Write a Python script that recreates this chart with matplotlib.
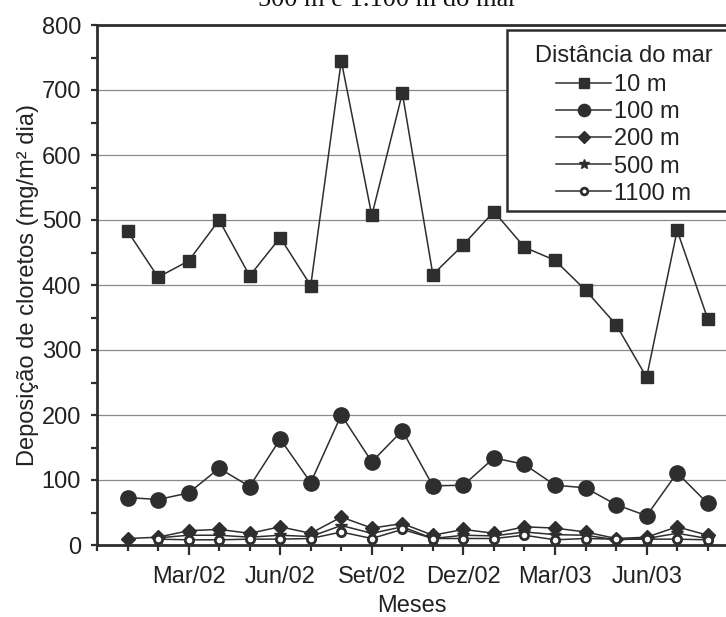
import matplotlib
matplotlib.use("Agg")
import matplotlib.pyplot as plt
import numpy as np
from matplotlib.patches import Rectangle
from matplotlib.ticker import FixedLocator, MultipleLocator

# monthly chloride deposition, Jan/02 .. Ago/03
months = ["Jan/02", "Fev/02", "Mar/02", "Abr/02", "Mai/02", "Jun/02", "Jul/02",
          "Ago/02", "Set/02", "Out/02", "Nov/02", "Dez/02", "Jan/03", "Fev/03",
          "Mar/03", "Abr/03", "Mai/03", "Jun/03", "Jul/03", "Ago/03"]
labelled_months = ["Mar/02", "Jun/02", "Set/02", "Dez/02", "Mar/03", "Jun/03"]

dep_10m = [483, 412, 437, 500, 414, 473, 399, 745, 507, 695,
           416, 462, 513, 458, 438, 392, 339, 258, 484, 348]
dep_100m = [73, 70, 80, 118, 90, 163, 96, 200, 128, 176,
            91, 92, 134, 124, 92, 88, 62, 45, 111, 64]
dep_200m = [10, 12, 22, 24, 18, 28, 18, 43, 26, 33,
            15, 24, 18, 28, 26, 20, 10, 12, 28, 15]
dep_500m = [np.nan, 11, 15, 15, 12, 15, 13, 30, 18, 28,
            10, 15, 14, 20, 16, 15, 8, 10, 18, 10]
dep_1100m = [np.nan, 9, 8, 8, 9, 9, 10, 20, 10, 24,
             10, 10, 10, 15, 8, 10, 9, 9, 9, 8]

ink = "#2e2e2e"
txt = "#222222"
W, H = 726, 617
plt.rcParams["font.family"] = ["Liberation Sans", "DejaVu Sans"]

fig = plt.figure(figsize=(W / 100, H / 100), dpi=100)
ax = fig.add_axes([97 / W, 72 / H, 1 - 97 / W, 520 / H])

x = np.arange(1, len(months) + 1)
line_kw = dict(color=ink, lw=1.1)

ax.plot(x, dep_500m, marker="*", ms=9, mfc=ink, mec=ink, label="500 m", zorder=3, **line_kw)
ax.plot(x, dep_200m, marker="D", ms=7.5, mfc=ink, mec=ink, label="200 m", zorder=4, **line_kw)
ax.plot(x, dep_1100m, marker="o", ms=6, mfc="white", mec=ink, mew=2.0, label="1100 m", zorder=5, **line_kw)
ax.plot(x, dep_100m, marker="o", ms=11, mfc=ink, mec=ink, label="100 m", zorder=6, **line_kw)
ax.plot(x, dep_10m, marker="s", ms=9, mfc=ink, mec=ink, label="10 m", zorder=7, **line_kw)

ax.set_xlim(0, 20.6)
ax.set_ylim(0, 800)

ax.yaxis.set_major_locator(MultipleLocator(100))
ax.yaxis.set_minor_locator(MultipleLocator(50))
ax.grid(axis="y", which="major", color="#8a8a8a", lw=0.9)
ax.set_axisbelow(True)

major_pos = [months.index(m) + 1 for m in labelled_months]
ax.xaxis.set_major_locator(FixedLocator(major_pos))
ax.set_xticklabels(labelled_months)
ax.xaxis.set_minor_locator(FixedLocator(np.arange(0, len(months) + 1)))

ax.tick_params(axis="both", which="both", direction="out", color=ink, width=1.6,
               labelsize=17, labelcolor=txt)
ax.tick_params(axis="x", which="major", length=7, pad=8)
ax.tick_params(axis="x", which="minor", length=4)
ax.tick_params(axis="y", which="major", length=4.5, pad=7)
ax.tick_params(axis="y", which="minor", length=4.5)

for side in ("left", "bottom", "top"):
    ax.spines[side].set_color(ink)
    ax.spines[side].set_linewidth(2.0)
ax.spines["right"].set_visible(False)

ax.set_xlabel("Meses", fontsize=17, color=txt, labelpad=5)
ax.set_ylabel("Deposição de cloretos (mg/m² dia)", fontsize=17, color=txt, labelpad=2)

# legend box runs past the right edge of the figure
box = Rectangle((507 / W, 1 - 211 / H), 260 / W, 181 / H, transform=fig.transFigure,
                facecolor="white", edgecolor=ink, lw=1.8, clip_on=False, zorder=9)
ax.add_artist(box)

handles, labels = ax.get_legend_handles_labels()
order = [labels.index(k) for k in ["10 m", "100 m", "200 m", "500 m", "1100 m"]]
leg = ax.legend([handles[i] for i in order], [labels[i] for i in order],
                title="Distância do mar", title_fontsize=17, fontsize=17,
                loc="upper left", bbox_to_anchor=(535 / W, 1 - 45 / H),
                bbox_transform=fig.transFigure, frameon=False,
                handlelength=2.3, handletextpad=0.15, labelspacing=0.22,
                borderpad=0, borderaxespad=0, markerscale=0.8)
leg.set_zorder(10)
leg.get_title().set_color(txt)
leg._legend_box.sep = 5
for t in leg.get_texts():
    t.set_color(txt)

fig.text(388 / W, 1 - 6 / H, "500 m e 1.100 m do mar", ha="center", va="baseline",
         family=["Liberation Serif", "DejaVu Serif"], fontsize=19, color="#111111")

fig.savefig("out.png", dpi=100)
